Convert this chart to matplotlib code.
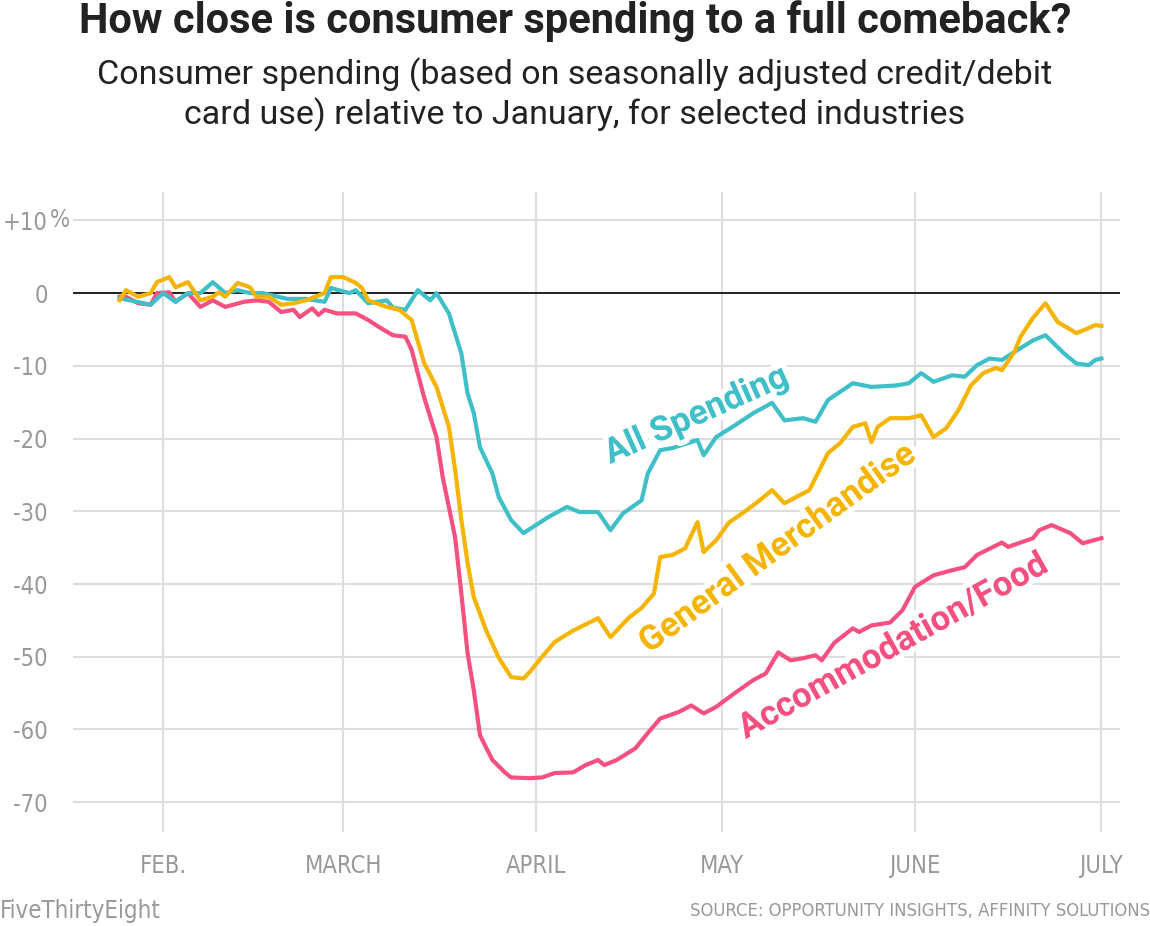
import numpy as np
import pandas as pd
import matplotlib
matplotlib.use("Agg")
import matplotlib.pyplot as plt
import matplotlib.patheffects as pe
import matplotlib.font_manager as fm

# All Spending (teal)
all_dates = [
    "2020-01-25", "2020-01-30", "2020-02-01", "2020-02-03", "2020-02-05", "2020-02-07",
    "2020-02-09", "2020-02-11", "2020-02-13", "2020-02-15", "2020-02-17", "2020-02-21",
    "2020-02-24", "2020-02-27", "2020-02-28", "2020-03-02", "2020-03-03", "2020-03-05",
    "2020-03-08", "2020-03-09", "2020-03-11", "2020-03-13", "2020-03-15", "2020-03-16",
    "2020-03-18", "2020-03-20", "2020-03-21", "2020-03-22", "2020-03-23", "2020-03-25",
    "2020-03-26", "2020-03-28", "2020-03-30", "2020-04-01", "2020-04-03", "2020-04-06",
    "2020-04-08", "2020-04-11", "2020-04-13", "2020-04-15", "2020-04-18", "2020-04-19",
    "2020-04-21", "2020-04-23", "2020-04-27", "2020-04-28", "2020-04-30", "2020-05-03",
    "2020-05-06", "2020-05-09", "2020-05-11", "2020-05-14", "2020-05-16", "2020-05-18",
    "2020-05-22", "2020-05-25", "2020-05-29", "2020-05-31", "2020-06-02", "2020-06-04",
    "2020-06-07", "2020-06-09", "2020-06-11", "2020-06-13", "2020-06-15", "2020-06-17",
    "2020-06-20", "2020-06-22", "2020-06-25", "2020-06-27", "2020-06-29", "2020-06-30",
    "2020-07-01",
]
all_vals = [
    -0.7, -1.6, 0.0, -1.2, 0.0, 0.0,
    1.5, 0.0, 0.4, 0.0, 0.0, -0.8,
    -0.8, -1.2, 0.7, 0.0, 0.4, -1.4,
    -1.0, -2.0, -2.3, 0.4, -1.0, 0.0,
    -2.8, -8.3, -13.8, -16.5, -21.2, -24.8,
    -28.0, -31.2, -33.0, -31.9, -30.8, -29.4,
    -30.1, -30.1, -32.6, -30.3, -28.5, -24.8,
    -21.6, -21.3, -20.2, -22.3, -19.8, -18.2,
    -16.5, -15.1, -17.5, -17.2, -17.7, -14.7,
    -12.4, -12.9, -12.7, -12.4, -11.0, -12.2,
    -11.3, -11.5, -9.9, -9.0, -9.2, -8.1,
    -6.5, -5.8, -8.3, -9.7, -9.9, -9.2,
    -9.0,
]

# General Merchandise (yellow)
gm_dates = [
    "2020-01-25", "2020-01-26", "2020-01-28", "2020-01-30", "2020-01-31", "2020-02-02",
    "2020-02-03", "2020-02-05", "2020-02-07", "2020-02-09", "2020-02-10", "2020-02-11",
    "2020-02-13", "2020-02-15", "2020-02-16", "2020-02-18", "2020-02-20", "2020-02-22",
    "2020-02-24", "2020-02-27", "2020-02-28", "2020-03-01", "2020-03-03", "2020-03-04",
    "2020-03-05", "2020-03-08", "2020-03-10", "2020-03-12", "2020-03-14", "2020-03-16",
    "2020-03-18", "2020-03-19", "2020-03-20", "2020-03-21", "2020-03-22", "2020-03-24",
    "2020-03-26", "2020-03-28", "2020-03-30", "2020-03-31", "2020-04-02", "2020-04-04",
    "2020-04-07", "2020-04-11", "2020-04-13", "2020-04-16", "2020-04-18", "2020-04-20",
    "2020-04-21", "2020-04-23", "2020-04-25", "2020-04-27", "2020-04-28", "2020-04-30",
    "2020-05-02", "2020-05-05", "2020-05-07", "2020-05-09", "2020-05-11", "2020-05-13",
    "2020-05-15", "2020-05-18", "2020-05-20", "2020-05-22", "2020-05-24", "2020-05-25",
    "2020-05-26", "2020-05-28", "2020-05-31", "2020-06-02", "2020-06-04", "2020-06-06",
    "2020-06-08", "2020-06-10", "2020-06-12", "2020-06-14", "2020-06-15", "2020-06-17",
    "2020-06-18", "2020-06-20", "2020-06-22", "2020-06-24", "2020-06-27", "2020-06-29",
    "2020-06-30", "2020-07-01",
]
gm_vals = [
    -1.0, 0.4, -0.5, 0.0, 1.5, 2.2,
    0.8, 1.5, -1.0, -0.5, 0.1, -0.5,
    1.4, 0.8, -0.5, -0.5, -1.6, -1.4,
    -1.0, 0.0, 2.2, 2.2, 1.4, 0.7,
    -1.0, -1.9, -2.3, -3.7, -9.6, -12.9,
    -18.4, -24.3, -31.2, -37.1, -41.8, -46.4,
    -50.1, -52.8, -53.0, -52.1, -50.0, -48.0,
    -46.4, -44.7, -47.3, -44.6, -43.3, -41.3,
    -36.3, -36.0, -35.1, -31.5, -35.6, -34.0,
    -31.6, -29.8, -28.5, -27.1, -28.9, -28.0,
    -27.1, -22.0, -20.6, -18.4, -17.9, -20.5,
    -18.4, -17.2, -17.2, -16.8, -19.8, -18.6,
    -16.1, -12.7, -11.0, -10.3, -10.6, -8.1,
    -6.0, -3.4, -1.4, -4.0, -5.5, -4.8,
    -4.4, -4.5,
]

# Accommodation/Food (pink)
af_dates = [
    "2020-01-25", "2020-01-26", "2020-01-28", "2020-01-30", "2020-01-31", "2020-02-02",
    "2020-02-03", "2020-02-05", "2020-02-07", "2020-02-09", "2020-02-11", "2020-02-14",
    "2020-02-16", "2020-02-18", "2020-02-20", "2020-02-22", "2020-02-23", "2020-02-25",
    "2020-02-26", "2020-02-27", "2020-02-29", "2020-03-03", "2020-03-05", "2020-03-07",
    "2020-03-09", "2020-03-11", "2020-03-12", "2020-03-14", "2020-03-16", "2020-03-17",
    "2020-03-19", "2020-03-20", "2020-03-21", "2020-03-22", "2020-03-23", "2020-03-25",
    "2020-03-27", "2020-03-28", "2020-03-31", "2020-04-02", "2020-04-04", "2020-04-07",
    "2020-04-09", "2020-04-11", "2020-04-12", "2020-04-14", "2020-04-17", "2020-04-19",
    "2020-04-21", "2020-04-24", "2020-04-26", "2020-04-28", "2020-04-30", "2020-05-03",
    "2020-05-06", "2020-05-08", "2020-05-10", "2020-05-12", "2020-05-14", "2020-05-16",
    "2020-05-17", "2020-05-19", "2020-05-22", "2020-05-23", "2020-05-25", "2020-05-28",
    "2020-05-30", "2020-06-01", "2020-06-04", "2020-06-07", "2020-06-09", "2020-06-11",
    "2020-06-15", "2020-06-16", "2020-06-20", "2020-06-21", "2020-06-23", "2020-06-26",
    "2020-06-28", "2020-07-01",
]
af_vals = [
    -0.5, -0.5, -1.4, -1.6, 0.0, 0.1,
    -1.2, 0.0, -1.9, -1.0, -1.9, -1.2,
    -1.0, -1.2, -2.6, -2.3, -3.3, -2.1,
    -3.0, -2.3, -2.8, -2.8, -3.7, -4.8,
    -5.8, -6.0, -7.8, -14.3, -19.8, -25.3,
    -33.6, -41.3, -49.5, -54.6, -60.8, -64.2,
    -65.9, -66.6, -66.7, -66.6, -66.0, -65.9,
    -64.9, -64.2, -64.9, -64.2, -62.6, -60.5,
    -58.5, -57.6, -56.7, -57.8, -56.9, -55.0,
    -53.2, -52.3, -49.4, -50.5, -50.2, -49.8,
    -50.5, -48.1, -46.1, -46.6, -45.7, -45.3,
    -43.6, -40.4, -38.8, -38.1, -37.7, -36.0,
    -34.3, -34.9, -33.7, -32.6, -31.9, -33.0,
    -34.4, -33.7,
]

yticks = [10, 0, -10, -20, -30, -40, -50, -60, -70]
ytick_labels = ["+10", "0", "-10", "-20", "-30", "-40", "-50", "-60", "-70"]
month_ticks = ["2020-02-01", "2020-03-01", "2020-04-01", "2020-05-01", "2020-06-01", "2020-07-01"]
month_labels = ["FEB.", "MARCH", "APRIL", "MAY", "JUNE", "JULY"]

teal = "#3fbfc7"
gold = "#f5b400"
pink = "#f5507f"
grey = "#999999"

# find a narrow / condensed face for the DIN-like axis text
narrow_file = None
for f in fm.fontManager.ttflist:
    n = f.fname.lower()
    if ("narrow" in n or "condensed" in n) and "bold" not in n and "italic" not in n and "oblique" not in n:
        if narrow_file is None or "liberation" in n:
            narrow_file = f.fname


def narrow(size):
    if narrow_file:
        return fm.FontProperties(fname=narrow_file, size=size)
    return fm.FontProperties(family="Liberation Sans", size=size * 0.82)


fig = plt.figure(figsize=(11.5, 9.26), dpi=100)
ax = fig.add_axes([73 / 1150, 1 - 832 / 926, (1120 - 73) / 1150, (832 - 192) / 926])

ax.plot(pd.to_datetime(af_dates), af_vals, color=pink, lw=3.0, zorder=3, solid_joinstyle="round")
ax.plot(pd.to_datetime(all_dates), all_vals, color=teal, lw=3.0, zorder=3, solid_joinstyle="round")
ax.plot(pd.to_datetime(gm_dates), gm_vals, color=gold, lw=3.0, zorder=3, solid_joinstyle="round")
ax.axhline(0, color="#222222", lw=1.4, zorder=2)

ax.set_xlim(pd.Timestamp("2020-01-17 12:00"), pd.Timestamp("2020-07-04"))
ax.set_ylim(-74.1, 13.9)

ax.set_yticks(yticks)
ax.set_yticklabels(ytick_labels)
ax.set_xticks(pd.to_datetime(month_ticks))
ax.set_xticklabels(month_labels)
ax.tick_params(axis="y", length=0, pad=18, labelcolor=grey)
ax.tick_params(axis="x", length=0, pad=16, labelcolor=grey)
for lab in ax.get_xticklabels() + ax.get_yticklabels():
    lab.set_fontproperties(narrow(17))
ax.text(-23 / 1047, 10, "%", transform=ax.get_yaxis_transform(), ha="left", va="center",
        color=grey, fontproperties=narrow(17))

ax.grid(True, color="#dddddd", lw=1.5, zorder=1)
for s in ax.spines.values():
    s.set_visible(False)

halo = [pe.withStroke(linewidth=8, foreground="white")]
lab_font = dict(fontsize=25, fontweight="bold", family="Roboto", ha="center", va="center",
                rotation_mode="anchor", path_effects=halo, zorder=4)
ax.text(pd.Timestamp("2020-04-26 20:00"), -16.8, "All Spending", color=teal, rotation=24, **lab_font)
ax.text(pd.Timestamp("2020-05-09 22:00"), -35.1, "General Merchandise", color=gold, rotation=36, **lab_font)
ax.text(pd.Timestamp("2020-05-28 12:00"), -48.6, "Accommodation/Food", color=pink, rotation=29, **lab_font)

fig.text(0.5, 1 - 21 / 926, "How close is consumer spending to a full comeback?",
         ha="center", va="center", fontsize=30, fontweight="bold", family="Roboto", color="#222222")
fig.text(0.5, 1 - 95 / 926,
         "Consumer spending (based on seasonally adjusted credit/debit\ncard use) relative to January, for selected industries",
         ha="center", va="center", fontsize=24.5, family="Roboto", color="#222222", linespacing=1.2)

fig.text(0, 1 - 911 / 926, "FiveThirtyEight", ha="left", va="center", color=grey,
         fontproperties=narrow(17.2))
fig.text(1, 1 - 911 / 926, "SOURCE: OPPORTUNITY INSIGHTS, AFFINITY SOLUTIONS", ha="right", va="center",
         color=grey, fontproperties=narrow(13.2))

fig.savefig("out.png", dpi=100, facecolor="white")
